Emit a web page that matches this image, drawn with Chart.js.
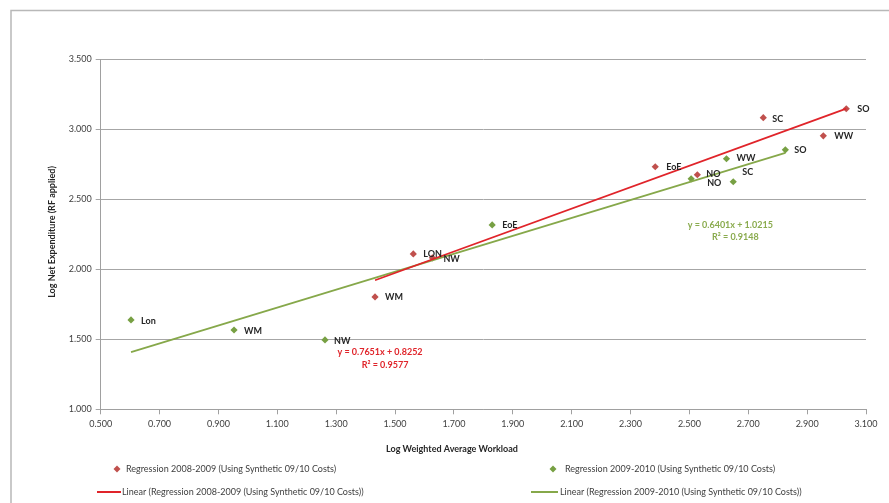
<!DOCTYPE html>
<html>
<head>
<meta charset="utf-8">
<script src="https://cdn.jsdelivr.net/npm/chart.js@4.4.1/dist/chart.umd.min.js"></script>
<style>
  html, body { margin: 0; padding: 0; background: #fff; }
  #wrap { width: 889px; height: 503px; position: relative; }
</style>
</head>
<body>
<div id="wrap"><canvas id="c" width="889" height="503"></canvas></div>
<script>
// Regression 2008-2009 (log workload, log net expenditure)
const regions0809 = ['SO', 'SC', 'WW', 'EoE', 'NO', 'LON', 'WM', 'NW'];
const x0809 = [3.033, 2.751, 2.955, 2.384, 2.527, 1.562, 1.432, 1.627];
const y0809 = [3.145, 3.081, 2.952, 2.731, 2.674, 2.109, 1.802, 2.081];

// Regression 2009-2010
const regions0910 = ['SO', 'WW', 'SC', 'NO', 'EoE', 'Lon', 'WM', 'NW'];
const x0910 = [2.826, 2.626, 2.649, 2.506, 1.830, 0.603, 0.953, 1.262];
const y0910 = [2.852, 2.788, 2.624, 2.645, 2.316, 1.638, 1.566, 1.495];

// Fitted trend lines (slope, intercept, R²)
const fit0809 = { slope: 0.7651, intercept: 0.8252, r2: 0.9577 };
const fit0910 = { slope: 0.6401, intercept: 1.0215, r2: 0.9148 };

// Axis ticks
const xTicks = [0.5, 0.7, 0.9, 1.1, 1.3, 1.5, 1.7, 1.9, 2.1, 2.3, 2.5, 2.7, 2.9, 3.1];
const yTicks = [1.0, 1.5, 2.0, 2.5, 3.0, 3.5];

const seriesNames = [
  'Regression 2008-2009 (Using Synthetic 09/10 Costs)',
  'Regression 2009-2010 (Using Synthetic 09/10 Costs)',
  'Linear (Regression 2008-2009 (Using Synthetic 09/10 Costs))',
  'Linear (Regression 2009-2010 (Using Synthetic 09/10 Costs))'
];

const RED = '#c0504d', GREEN = '#77a043';
const RED_LINE = '#e0242a', GREEN_LINE = '#86a84a';
const FONT = 'Lato, "Open Sans", sans-serif';

// label offsets (px) for point names
const off0809 = [[11,0],[9,1],[11,0],[11,0],[9,-1],[10,0],[10,0],[11,1]];
const off0910 = [[9,0],[10,-1],[9,-10],[16,4],[10,0],[10,1],[10,1],[9,1]];

const pts = (xs, ys) => xs.map((x, i) => ({ x, y: ys[i] }));
function trend(fit, xs) {
  const lo = Math.min(...xs), hi = Math.max(...xs);
  return [{ x: lo, y: fit.slope * lo + fit.intercept }, { x: hi, y: fit.slope * hi + fit.intercept }];
}

const decor = {
  id: 'decor',
  afterDatasetsDraw(chart) {
    const ctx = chart.ctx;
    const xs = chart.scales.x, ys = chart.scales.y;
    ctx.save();
    // point names
    ctx.font = 'bold 9px ' + FONT;
    ctx.fillStyle = '#262626';
    ctx.textBaseline = 'middle';
    ctx.textAlign = 'left';
    [[0, regions0809, off0809], [1, regions0910, off0910]].forEach(([di, names, offs]) => {
      chart.getDatasetMeta(di).data.forEach((el, i) => {
        ctx.fillText(names[i], el.x + offs[i][0], el.y + offs[i][1]);
      });
    });
    // regression equations
    ctx.textAlign = 'center';
    ctx.font = 'bold 9px ' + FONT;
    const eq = (fit, col, ex, ey1, ey2) => {
      ctx.fillStyle = col;
      ctx.fillText('y = ' + fit.slope.toFixed(4) + 'x + ' + fit.intercept.toFixed(4), xs.getPixelForValue(ex), ys.getPixelForValue(ey1));
      ctx.fillText('R² = ' + fit.r2.toFixed(4), xs.getPixelForValue(ex + 0.017), ys.getPixelForValue(ey2));
    };
    eq(fit0809, '#e0242a', 1.449, 1.407, 1.316);
    eq(fit0910, '#8aab4e', 2.639, 2.316, 2.23);
    ctx.restore();
  },
  afterDraw(chart) {
    const ctx = chart.ctx;
    ctx.save();
    // outer frame
    ctx.strokeStyle = '#b8b8b8';
    ctx.lineWidth = 1.5;
    ctx.beginPath();
    ctx.moveTo(11, 503); ctx.lineTo(11, 10.5); ctx.lineTo(889, 10.5);
    ctx.stroke();
    // axis titles
    ctx.fillStyle = '#262626';
    ctx.font = 'bold 9px ' + FONT;
    ctx.textAlign = 'center';
    ctx.textBaseline = 'middle';
    ctx.fillText('Log Weighted Average Workload', 452, 449);
    ctx.save();
    ctx.translate(52, 232);
    ctx.rotate(-Math.PI / 2);
    ctx.fillText('Log Net Expenditure (RF applied)', 0, 0);
    ctx.restore();
    // legend
    ctx.font = '9px ' + FONT;
    ctx.textAlign = 'left';
    ctx.fillStyle = '#404040';
    const diamond = (cx, cy, col) => {
      ctx.fillStyle = col;
      ctx.beginPath();
      ctx.moveTo(cx, cy - 3.5); ctx.lineTo(cx + 3.5, cy); ctx.lineTo(cx, cy + 3.5); ctx.lineTo(cx - 3.5, cy);
      ctx.closePath(); ctx.fill();
    };
    const line = (x1, x2, cy, col) => {
      ctx.strokeStyle = col; ctx.lineWidth = 2;
      ctx.beginPath(); ctx.moveTo(x1, cy); ctx.lineTo(x2, cy); ctx.stroke();
    };
    diamond(117, 469, RED);
    diamond(553, 469, GREEN);
    line(97, 121, 492, RED_LINE);
    line(531, 558, 492, GREEN_LINE);
    ctx.fillStyle = '#404040';
    ctx.fillText(seriesNames[0], 126, 469);
    ctx.fillText(seriesNames[1], 565, 469);
    ctx.fillText(seriesNames[2], 122, 492);
    ctx.fillText(seriesNames[3], 560, 492);
    ctx.restore();
  }
};

new Chart(document.getElementById('c'), {
  type: 'scatter',
  data: {
    datasets: [
      { label: seriesNames[0], data: pts(x0809, y0809), pointStyle: 'rectRot', pointRadius: 3.6,
        backgroundColor: RED, borderColor: RED, borderWidth: 0, order: 1 },
      { label: seriesNames[1], data: pts(x0910, y0910), pointStyle: 'rectRot', pointRadius: 3.6,
        backgroundColor: GREEN, borderColor: GREEN, borderWidth: 0, order: 1 },
      { label: seriesNames[2], data: trend(fit0809, x0809), showLine: true, pointRadius: 0,
        borderColor: RED_LINE, borderWidth: 1.8, order: 0 },
      { label: seriesNames[3], data: trend(fit0910, x0910), showLine: true, pointRadius: 0,
        borderColor: GREEN_LINE, borderWidth: 1.8, order: 0 }
    ]
  },
  options: {
    responsive: false,
    animation: false,
    layout: { padding: { left: 0, top: 59, right: 23, bottom: 0 } },
    plugins: { legend: { display: false }, tooltip: { enabled: false } },
    scales: {
      x: {
        type: 'linear', min: 0.5, max: 3.1,
        afterBuildTicks: s => { s.ticks = xTicks.map(v => ({ value: v })); },
        afterFit: s => { s.height = 93.7; },
        ticks: { callback: v => v.toFixed(3), color: '#404040', font: { family: FONT, size: 9 }, padding: 4, maxRotation: 0 },
        grid: { drawOnChartArea: false, drawTicks: true, tickLength: 5, color: '#a0a0a0' },
        border: { display: true, color: '#a0a0a0', width: 1 }
      },
      y: {
        type: 'linear', min: 1, max: 3.5,
        afterBuildTicks: s => { s.ticks = yTicks.map(v => ({ value: v })); },
        afterFit: s => { s.width = 100.7; },
        ticks: { callback: v => v.toFixed(3), color: '#404040', font: { family: FONT, size: 9 }, padding: 4 },
        grid: { drawOnChartArea: true, drawTicks: true, tickLength: 5, color: '#a6a6a6' },
        border: { display: true, color: '#a0a0a0', width: 1 }
      }
    }
  },
  plugins: [decor]
});
</script>
</body>
</html>
